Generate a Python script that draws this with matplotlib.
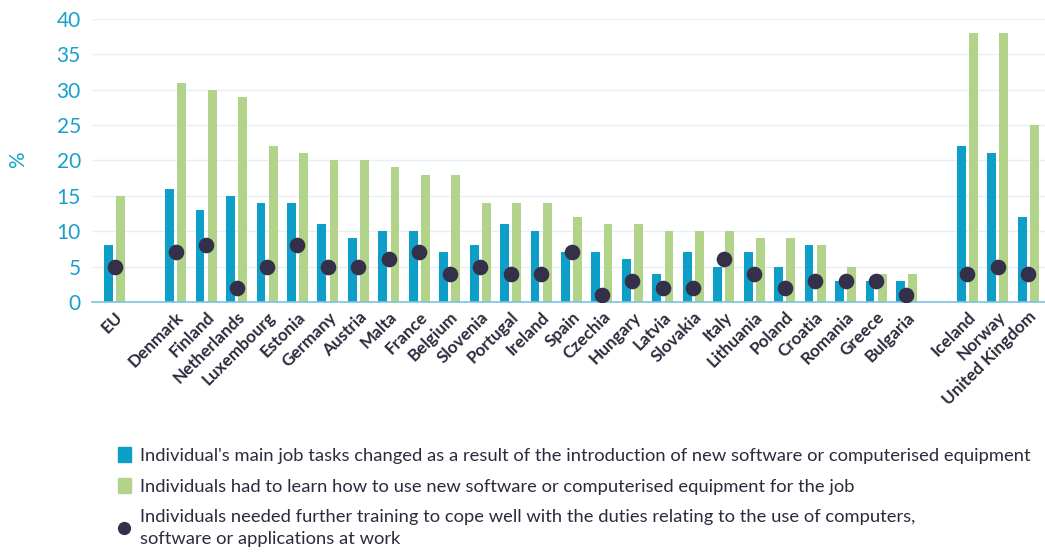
import numpy as np
import matplotlib
matplotlib.use("Agg")
import matplotlib.pyplot as plt
from matplotlib.lines import Line2D
from matplotlib.patches import Patch

plt.rcParams['font.family'] = ['Lato', 'Open Sans', 'DejaVu Sans']

# data (%)
countries = ["EU", "Denmark", "Finland", "Netherlands", "Luxembourg", "Estonia", "Germany",
             "Austria", "Malta", "France", "Belgium", "Slovenia", "Portugal", "Ireland", "Spain",
             "Czechia", "Hungary", "Latvia", "Slovakia", "Italy", "Lithuania", "Poland", "Croatia",
             "Romania", "Greece", "Bulgaria", "Iceland", "Norway", "United Kingdom"]
tasks_changed = [8, 16, 13, 15, 14, 14, 11, 9, 10, 10, 7, 8, 11, 10, 7,
                 7, 6, 4, 7, 5, 7, 5, 8, 3, 3, 3, 22, 21, 12]
learn_new = [15, 31, 30, 29, 22, 21, 20, 20, 19, 18, 18, 14, 14, 14, 12,
             11, 11, 10, 10, 10, 9, 9, 8, 5, 4, 4, 38, 38, 25]
needed_training = [5, 7, 8, 2, 5, 8, 5, 5, 6, 7, 4, 5, 4, 4, 7,
                   1, 3, 2, 2, 6, 4, 2, 3, 3, 3, 1, 4, 5, 4]

labels = ["Individual's main job tasks changed as a result of the introduction of new software or computerised equipment",
          "Individuals had to learn how to use new software or computerised equipment for the job",
          "Individuals needed further training to cope well with the duties relating to the use of computers,\nsoftware or applications at work"]

blue = "#0e9fc9"
green = "#b2d48a"
dark = "#35304a"
text_col = "#2b2b3d"
axis_col = "#1a9fcb"

# EU, gap, 25 member states, gap, 3 EFTA/UK
x = np.array([0] + list(range(2, 27)) + [28, 29, 30])

fig = plt.figure(figsize=(10.45, 5.53), dpi=100)
ax = fig.add_axes([0.088, 0.454, 0.912, 0.512])

w = 0.29
ax.bar(x - 0.2, tasks_changed, width=w, color=blue, zorder=2)
ax.bar(x + 0.2, learn_new, width=w, color=green, zorder=2)
ax.scatter(x, needed_training, s=105, color=dark, zorder=3)

ax.set_xlim(-0.75, 30.55)
ax.set_ylim(0, 40)
ax.set_yticks(range(0, 41, 5))
ax.grid(axis='y', color="#e3f1f6", linewidth=1, zorder=0)
for s in ['top', 'right', 'left']:
    ax.spines[s].set_visible(False)
ax.spines['bottom'].set_color("#7cc3dd")
ax.spines['bottom'].set_linewidth(1.2)
ax.tick_params(axis='y', length=0, labelsize=15, labelcolor=axis_col, pad=8)
ax.tick_params(axis='x', length=0, pad=5)
ax.set_xticks(x)
ax.set_xticklabels(countries, rotation=45, ha='right', rotation_mode='anchor',
                   fontsize=12.3, color=text_col, fontweight='bold')
fig.text(18 / 1045, 1 - 160 / 553, "%", color=axis_col, fontsize=15,
         rotation=90, ha='center', va='center')

handles = [Patch(color=blue), Patch(color=green),
           Line2D([], [], marker='o', linestyle='none', color=dark, markersize=8.5)]
leg = fig.legend(handles, labels, loc='upper left', bbox_to_anchor=(0.097, 0.222),
                 frameon=False, fontsize=13.2, handlelength=0.7, handleheight=0.9,
                 handletextpad=0.5, labelspacing=0.78, labelcolor=text_col)
for t in leg.get_texts():
    t.set_linespacing(1.45)

fig.savefig("out.png", dpi=100)
